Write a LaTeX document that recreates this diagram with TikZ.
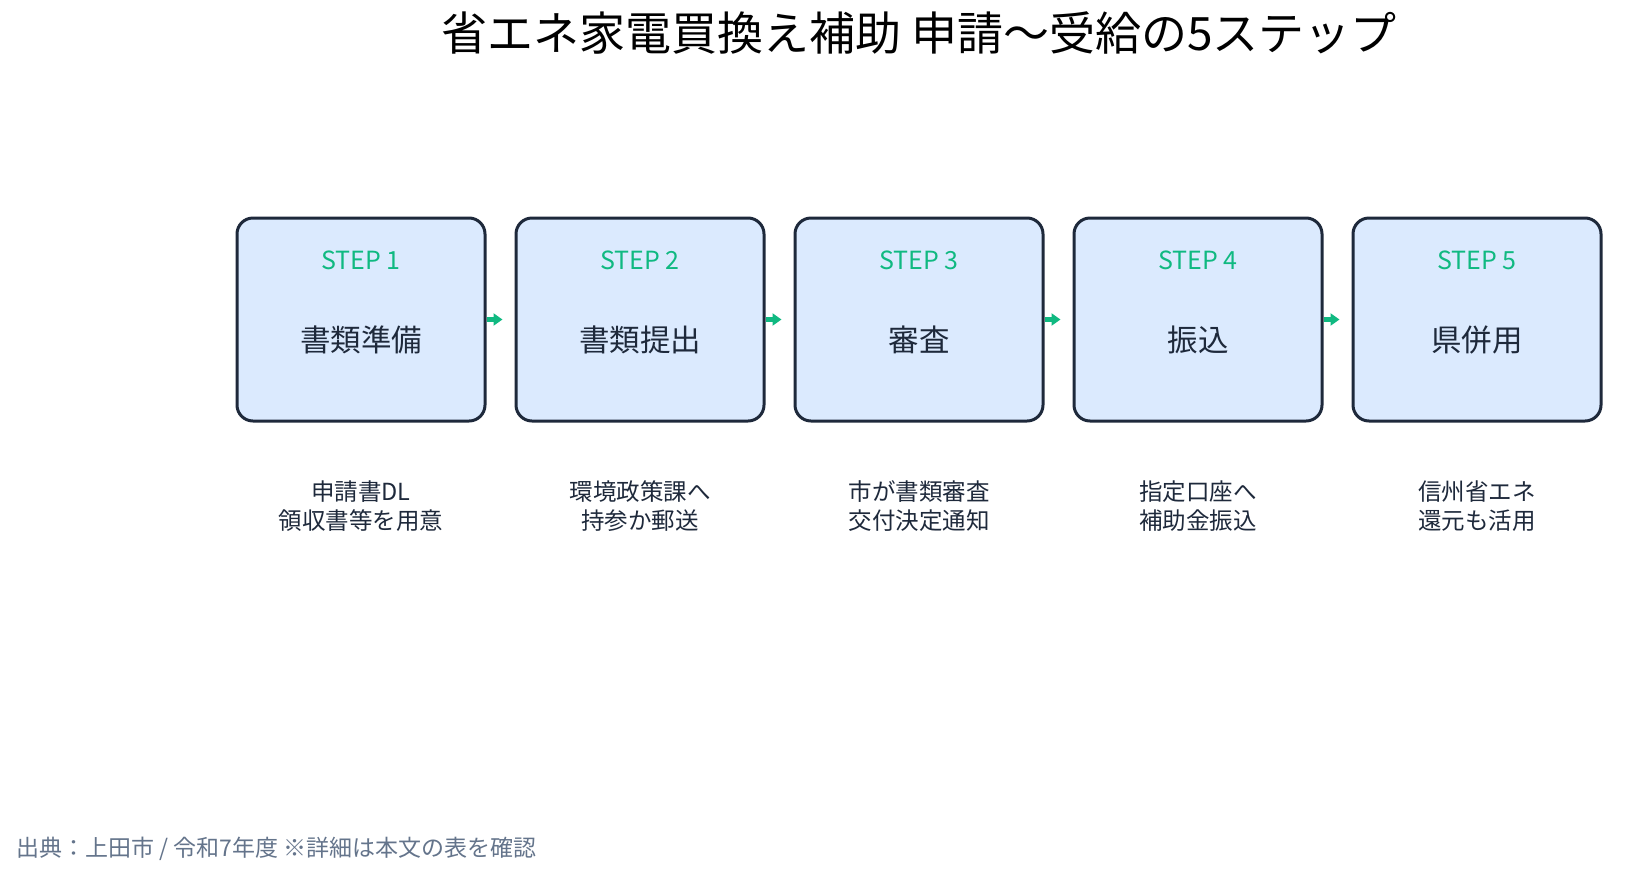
\documentclass[tikz,border=0pt]{standalone}
\usepackage{fontspec}
\usepackage{xcolor}
\setmainfont{Noto Sans CJK JP}
\usetikzlibrary{arrows.meta,positioning}

\definecolor{boxfill}{HTML}{DBEAFE}
\definecolor{boxline}{HTML}{1E293B}
\definecolor{stepgreen}{HTML}{10B981}
\definecolor{notegray}{HTML}{64748B}

\tikzset{
  stepbox/.style={draw=boxline,line width=3pt,fill=boxfill,rounded corners=16pt,
    minimum width=248pt,minimum height=203pt,inner sep=0pt},
  steptag/.style={text=stepgreen,font=\fontsize{25}{29}\selectfont},
  stepname/.style={text=boxline,font=\fontsize{30.5}{36}\selectfont},
  stepnote/.style={text=boxline,align=center,font=\fontsize{23.5}{28.5}\selectfont},
  flowarrow/.style={draw=stepgreen,line width=5pt,-{Triangle[length=9pt,width=12pt]}}
}

\begin{document}
\begin{tikzpicture}[x=1pt,y=-1pt]
  \useasboundingbox (0,0) rectangle (1632,876);
  {

  % Drawing title
  \node (title) at (919,33) {\fontsize{46}{52}\selectfont 省エネ家電買換え補助 申請〜受給の5ステップ};

  % Drawing box 1
  \node [stepbox] (b1) at (361,319.5) {};
  \node [steptag] (t1) at (361,260) {STEP 1};
  \node [stepname] (n1) at (361,340) {書類準備};
  \node [stepnote] (c1) at (361,506) {申請書DL\\領収書等を用意};

  % Drawing box 2
  \node [stepbox] (b2) at (640,319.5) {};
  \node [steptag] (t2) at (640,260) {STEP 2};
  \node [stepname] (n2) at (640,340) {書類提出};
  \node [stepnote] (c2) at (640,506) {環境政策課へ\\持参か郵送};

  % Drawing box 3
  \node [stepbox] (b3) at (919,319.5) {};
  \node [steptag] (t3) at (919,260) {STEP 3};
  \node [stepname] (n3) at (919,340) {審査};
  \node [stepnote] (c3) at (919,506) {市が書類審査\\交付決定通知};

  % Drawing box 4
  \node [stepbox] (b4) at (1198,319.5) {};
  \node [steptag] (t4) at (1198,260) {STEP 4};
  \node [stepname] (n4) at (1198,340) {振込};
  \node [stepnote] (c4) at (1198,506) {指定口座へ\\補助金振込};

  % Drawing box 5
  \node [stepbox] (b5) at (1477,319.5) {};
  \node [steptag] (t5) at (1477,260) {STEP 5};
  \node [stepname] (n5) at (1477,340) {県併用};
  \node [stepnote] (c5) at (1477,506) {信州省エネ\\還元も活用};

  % Drawing arrows b1 -> b5
  \coordinate [right=16pt of b1.east] (a1);
  \coordinate [right=16pt of b2.east] (a2);
  \coordinate [right=16pt of b3.east] (a3);
  \coordinate [right=16pt of b4.east] (a4);
  \draw [flowarrow] (b1.east) -- (a1);
  \draw [flowarrow] (b2.east) -- (a2);
  \draw [flowarrow] (b3.east) -- (a3);
  \draw [flowarrow] (b4.east) -- (a4);

  % Marking source
  \node [anchor=west,text=notegray,font=\fontsize{23}{27}\selectfont] (src) at (13,849)
    {出典：上田市 / 令和7年度 ※詳細は本文の表を確認};
  }
\end{tikzpicture}
\end{document}
